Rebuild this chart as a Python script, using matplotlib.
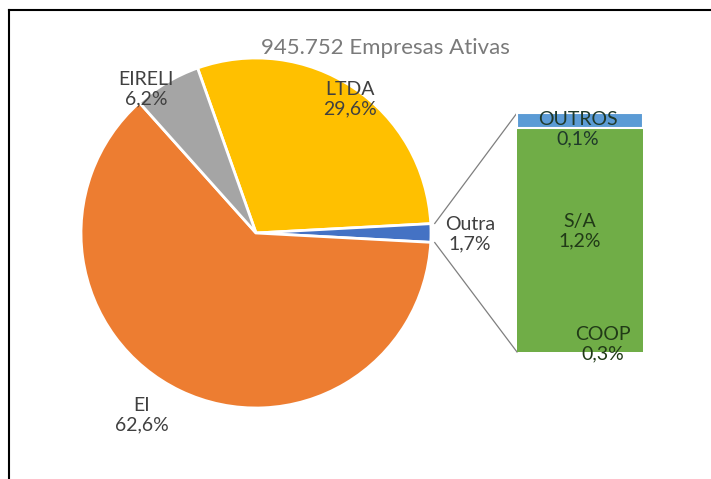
import numpy as np
import matplotlib
matplotlib.use("Agg")
import matplotlib.pyplot as plt
from matplotlib.lines import Line2D

# dados
titulo = "945.752 Empresas Ativas"
pie_labels = ["LTDA", "Outra", "EI", "EIRELI"]
pie_vals = [29.6, 1.7, 62.6, 6.2]
pie_cores = ["#FFC000", "#4472C4", "#ED7D31", "#A5A5A5"]

bar_labels = ["COOP", "S/A", "OUTROS"]
bar_vals = [0.3, 1.2, 0.1]
bar_cores = ["#70AD47", "#70AD47", "#5B9BD5"]


def pct(v):
    return f"{v:.1f}%".replace(".", ",")


plt.rcParams["font.family"] = ["Lato", "DejaVu Sans"]
W, H = 711, 479
fig = plt.figure(figsize=(W / 100, H / 100), dpi=100)
ax = fig.add_axes([0, 0, 1, 1])

# pizza (coordenadas em pixels, y para cima)
cx, cy, r = 256, H - 233, 175
outra_frac = pie_vals[1] / sum(pie_vals) * 360
start = outra_frac / 2 + pie_vals[0] / sum(pie_vals) * 360
ax.pie(pie_vals, colors=pie_cores, center=(cx, cy), radius=r,
       startangle=start, counterclock=False,
       wedgeprops=dict(edgecolor="white", linewidth=2))

# barra empilhada
bx0, bx1 = 517, 643
btop, bbot = H - 113, H - 352
esc = (btop - bbot) / sum(bar_vals)
base = bbot
for lab, v, c in zip(bar_labels, bar_vals, bar_cores):
    ec = "white" if lab == "OUTROS" else c
    ax.bar((bx0 + bx1) / 2, v * esc, width=bx1 - bx0, bottom=base,
           color=c, edgecolor=ec, linewidth=1.5 if lab == "OUTROS" else 0,
           zorder=2)
    base += v * esc

# linhas de ligação
a = np.deg2rad(outra_frac / 2)
for sgn, yb in [(1, btop), (-1, bbot)]:
    ax.plot([cx + (r + 4) * np.cos(a), bx0], [cy + sgn * (r + 4) * np.sin(a), yb],
            color="#7F7F7F", lw=0.9, zorder=1)

# textos
tc = "#404040"
fs = 14
ls = 1.15
ax.text(385, H - 48, titulo, ha="center", va="center", fontsize=16, color="#7A7A7A")
ax.text(146, H - 89, f"EIRELI\n{pct(pie_vals[3])}", ha="center", va="center",
        fontsize=fs, color=tc, linespacing=ls)
ax.text(350, H - 99, f"LTDA\n{pct(pie_vals[0])}", ha="center", va="center",
        fontsize=fs, color=tc, linespacing=ls)
ax.text(470, H - 234, f"Outra\n{pct(pie_vals[1])}", ha="center", va="center",
        fontsize=fs, color=tc, linespacing=ls)
ax.text(142, H - 415, f"EI\n{pct(pie_vals[2])}", ha="center", va="center",
        fontsize=fs, color=tc, linespacing=ls)
ax.text(578, H - 129, f"OUTROS\n{pct(bar_vals[2])}", ha="center", va="center",
        fontsize=fs, color="#1F3A2A", linespacing=ls)
ax.text(580, H - 231, f"S/A\n{pct(bar_vals[1])}", ha="center", va="center",
        fontsize=fs, color="#213A17", linespacing=ls)
ax.text(603, H - 344, f"COOP\n{pct(bar_vals[0])}", ha="center", va="center",
        fontsize=fs, color="#213A17", linespacing=ls)

ax.set_xlim(0, W)
ax.set_ylim(0, H)
ax.set_aspect("equal")
ax.axis("off")

# moldura
fig.add_artist(Line2D([9 / W, 1], [1 - 10 / H, 1 - 10 / H], color="black", lw=1.5,
                      transform=fig.transFigure))
fig.add_artist(Line2D([9 / W, 9 / W], [0, 1 - 10 / H], color="black", lw=1.5,
                      transform=fig.transFigure))

fig.savefig("out.png", dpi=100)
